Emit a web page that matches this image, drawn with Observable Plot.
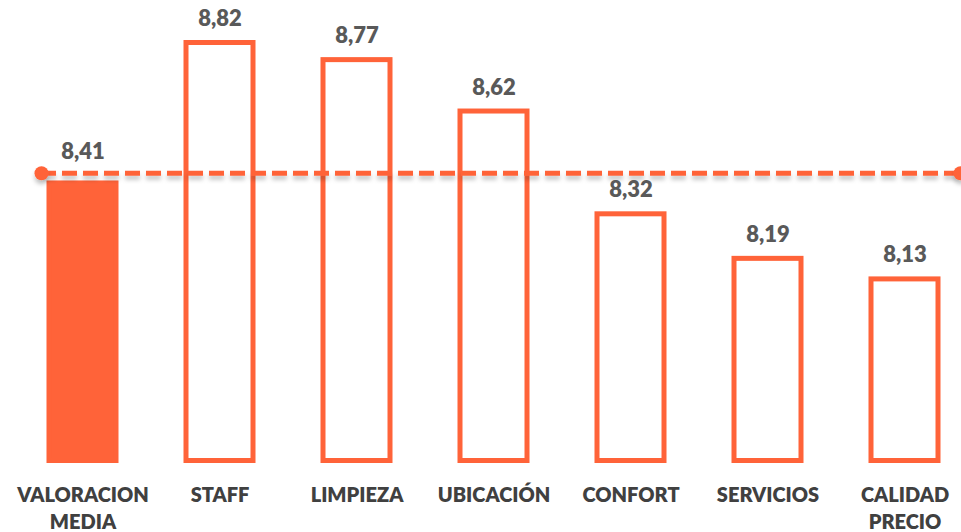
<!DOCTYPE html>
<html>
<head>
<meta charset="utf-8">
<script src="https://cdn.jsdelivr.net/npm/d3@7"></script>
<script src="https://cdn.jsdelivr.net/npm/@observablehq/plot@0.6"></script>
<style>
  html, body { margin: 0; padding: 0; background: #ffffff; }
  #chart { width: 961px; height: 532px; overflow: hidden; }
</style>
</head>
<body>
<div id="chart"></div>
<script>
// ---- data ----
const categories = ["VALORACION\nMEDIA", "STAFF", "LIMPIEZA", "UBICACIÓN", "CONFORT", "SERVICIOS", "CALIDAD\nPRECIO"];
const values = [8.41, 8.82, 8.77, 8.62, 8.32, 8.19, 8.13];
const valueLabels = ["8,41", "8,82", "8,77", "8,62", "8,32", "8,19", "8,13"];
const averageLevel = [8.44]; // level of the dashed reference line
const averageLabel = ["8,41"];

const ORANGE = "#ff6339";
const rows = categories.map((c, i) => ({cat: c, value: values[i], label: valueLabels[i]}));
const avgRow = rows.slice(0, 1);
const otherRows = rows.slice(1);

const chart = Plot.plot({
  width: 961,
  height: 532,
  marginTop: 10,
  marginBottom: 71.5,
  marginLeft: 41,
  marginRight: 1,
  style: {fontFamily: "Lato, 'Open Sans', sans-serif", color: "#404040", background: "#ffffff"},
  x: {type: "band", domain: categories, range: [11.17, 974.83], paddingInner: 0.513, paddingOuter: 0.2565},
  y: {type: "linear", domain: [7.6, 8.82], range: [460.5, 42.5], axis: null},
  marks: [
    Plot.barY(avgRow, {x: "cat", y1: 7.6, y2: "value", fill: ORANGE, stroke: ORANGE, strokeWidth: 5}),
    Plot.barY(otherRows, {x: "cat", y1: 7.6, y2: "value", fill: "white", stroke: ORANGE, strokeWidth: 5}),
    Plot.ruleY(averageLevel, {y: d => d, stroke: ORANGE, strokeWidth: 5, strokeDasharray: "15,6"}),
    Plot.dot(averageLevel, {y: d => d, frameAnchor: "left", r: 7, fill: ORANGE, stroke: "none"}),
    Plot.dot(averageLevel, {y: d => d, frameAnchor: "right", r: 7, fill: ORANGE, stroke: "none"}),
    Plot.text(otherRows, {x: "cat", y: "value", text: "label", lineAnchor: "bottom", dy: -17,
      fontSize: 22, fontWeight: 800, fill: "#595959"}),
    Plot.text(averageLevel, {x: () => categories[0], y: d => d, text: () => averageLabel[0], lineAnchor: "bottom", dy: -14,
      fontSize: 22, fontWeight: 800, fill: "#595959"}),
    Plot.axisX({tickSize: 0, tickPadding: 22, fontSize: 20, fontWeight: 800, lineHeight: 1.35, label: null, fill: "#404040"})
  ]
});

// subtle drop shadow under the dashed reference line
const svg = d3.select(chart);
const defs = svg.insert("defs", ":first-child");
const f = defs.append("filter").attr("id", "lineShadow").attr("filterUnits", "userSpaceOnUse")
  .attr("x", 0).attr("y", 0).attr("width", 961).attr("height", 532);
f.append("feDropShadow").attr("dx", 0).attr("dy", 4).attr("stdDeviation", 2).attr("flood-color", "#000").attr("flood-opacity", 0.22);
svg.selectAll('g[aria-label="rule"], g[aria-label="dot"]').attr("filter", "url(#lineShadow)");

document.getElementById("chart").appendChild(chart);
</script>
</body>
</html>
